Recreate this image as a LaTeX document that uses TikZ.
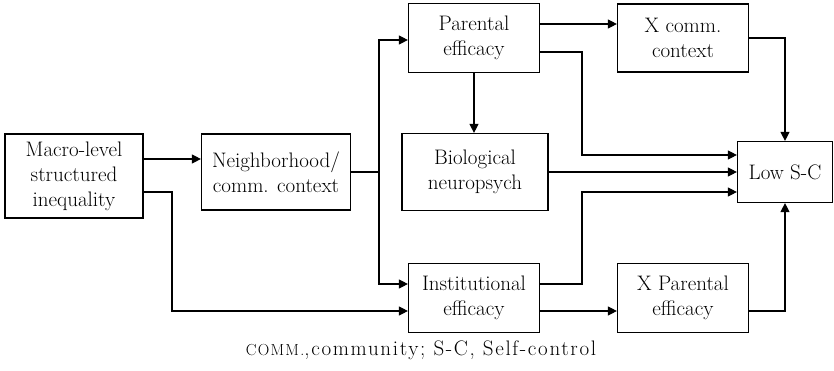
\documentclass[tikz,border=0pt]{standalone}
\usepackage{fontspec}
\newfontfamily\capfont{Latin Modern Roman}[LetterSpace=8]
\usetikzlibrary{arrows.meta,calc}
\begin{document}
\begin{tikzpicture}[x=1pt,y=-1pt,
  box/.style={draw,line width=1.2pt,align=center,inner sep=0pt,font=\fontsize{21}{25}\selectfont},
  conn/.style={line width=1.2pt},
  arr/.style={conn,-{Triangle[length=9pt,width=9pt]}}]
\useasboundingbox (0,0) rectangle (834,371);
\node[box,minimum width=138pt,minimum height=84pt] (macro) at (74,176) {Macro-level\\structured\\inequality};
\node[box,minimum width=149pt,minimum height=76pt] (neigh) at (276,172) {Neighborhood/\\comm. context};
\node[box,minimum width=131pt,minimum height=69pt] (par) at (474,38) {Parental\\efficacy};
\node[box,minimum width=131pt,minimum height=68pt] (xc) at (683,38) {X comm.\\context};
\node[box,minimum width=146pt,minimum height=77pt] (bio) at (475,172) {Biological\\neuropsych};
\node[box,minimum width=95pt,minimum height=61pt] (low) at (785,172) {Low S-C};
\node[box,minimum width=131pt,minimum height=69pt] (inst) at (474,298) {Institutional\\efficacy};
\node[box,minimum width=131pt,minimum height=69pt] (xp) at (683,298) {X Parental\\efficacy};
\node[font=\capfont\fontsize{21}{25}\selectfont,inner sep=0pt,anchor=base] (cap) at (421,355) {{\fontsize{16}{20}\selectfont COMM.},community; S-C, Self-control};
\coordinate (m1) at (172,0);
\coordinate (n1) at (379,0);
\coordinate (p1) at (582,0);
% macro -> neighborhood
\draw[arr] ([yshift=17pt]macro.east) -- ([yshift=17pt]macro.east -| neigh.west);
% macro -> institutional
\coordinate (ia) at ([yshift=-13pt]inst.west);
\draw[arr] ([yshift=-16pt]macro.east) -| (m1 |- ia) -- (ia);
% neighborhood -> parental / institutional
\coordinate (pa) at ([yshift=-2pt]par.west);
\coordinate (ib) at ([yshift=14pt]inst.west);
\draw[conn] (neigh.east) -- (neigh.east -| n1);
\draw[arr] (n1 |- neigh.east) -- (n1 |- pa) -- (pa);
\draw[arr] (n1 |- neigh.east) -- (n1 |- ib) -- (ib);
% parental -> X comm
\draw[arr] ([yshift=14pt]par.east) -- ([yshift=14pt]par.east -| xc.west);
% parental -> low
\coordinate (la) at ([yshift=17pt]low.west);
\draw[arr] ([yshift=-14pt]par.east) -| (p1 |- la) -- (la);
% parental -> bio
\draw[arr] (par.south) -- (par.south |- bio.north);
% bio -> low
\draw[arr] (bio.east) -- (bio.east -| low.west);
% institutional -> low
\coordinate (lc) at ([yshift=-20pt]low.west);
\draw[arr] ([yshift=14pt]inst.east) -| (p1 |- lc) -- (lc);
% institutional -> X parental
\draw[arr] ([yshift=-13pt]inst.east) -- ([yshift=-13pt]inst.east -| xp.west);
% X comm -> low
\draw[arr] (xc.east) -| (low.north);
% X parental -> low
\draw[arr] ([yshift=-13pt]xp.east) -| (low.south);
\end{tikzpicture}
\end{document}
